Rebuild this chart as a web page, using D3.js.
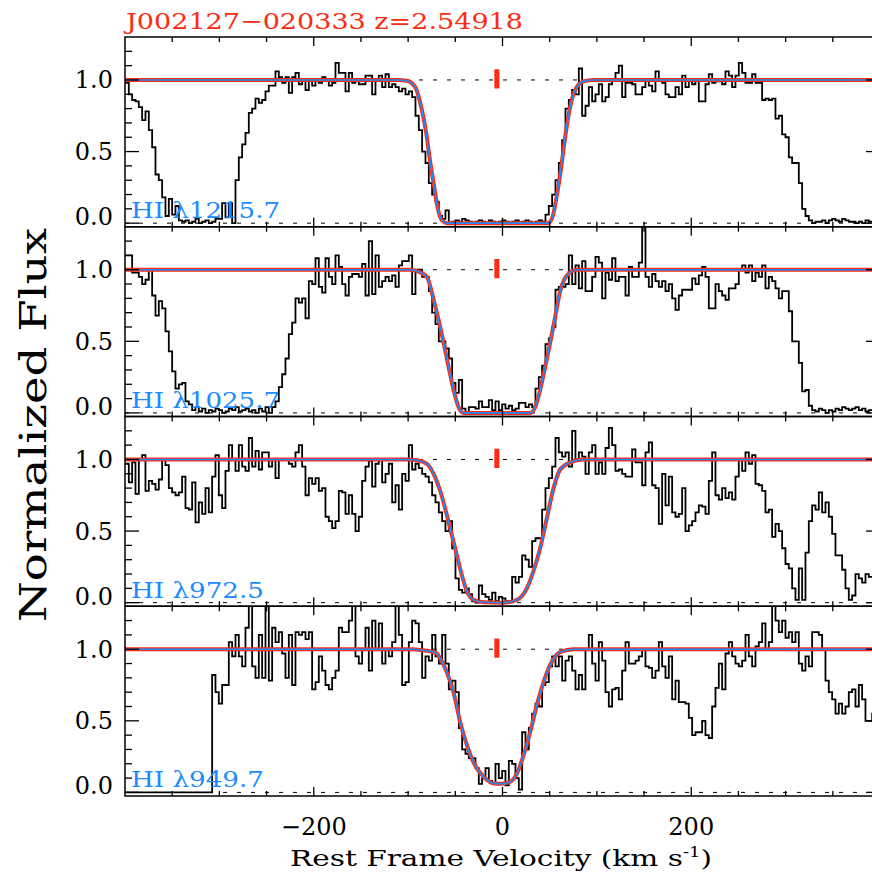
<!DOCTYPE html>
<html><head><meta charset="utf-8">
<script src="https://cdn.jsdelivr.net/npm/d3@7"></script>
<style>body{margin:0;background:#fff} svg{display:block}</style>
</head><body>
<svg id="chart" width="872" height="879"></svg>
<script>
// ---------------- data ----------------
const titleText = "J002127\u2212020333 z=2.54918";
const panelLabels = ["HI \u03bb1215.7", "HI \u03bb1025.7", "HI \u03bb972.5", "HI \u03bb949.7"];
const xTickValues = [-200, 0, 200];
const xTickLabels = ["\u2212200", "0", "200"];
const yTickValues = [0, 0.5, 1.0];
const yTickLabels = ["0.0", "0.5", "1.0"];
const xAxisTitle = "Rest Frame Velocity (km s";
const yAxisTitle = "Normalized Flux";

const velStart = -399.5, velStep = 3.532;
const markerVel = -6, markerLow = 0.94, markerHigh = 1.075;

const flux1215 = [
0.98,0.9,0.86,0.85,0.81,0.72,0.78,0.65,0.53,0.34,
0.3,0.18,0.05,0.17,0.06,0.12,0.02,0.01,0.02,0.0,
0.01,0.03,0.0,0.01,0.02,0.0,0.01,0.03,0.03,0.14,
0.04,0.14,0.0,0.3,0.46,0.55,0.63,0.77,0.8,0.87,
0.84,0.86,0.92,0.96,0.96,1.06,1.02,0.98,1.02,0.91,
1.02,1.05,0.97,1.0,0.93,1.0,0.96,1.0,0.98,1.02,
1.0,0.96,0.98,1.12,1.05,1.05,0.92,1.05,0.98,1.0,
0.97,0.97,1.03,1.03,0.9,1.0,1.03,0.95,1.04,0.95,
0.97,0.95,0.92,0.94,0.9,0.92,0.88,0.75,0.65,0.5,
0.42,0.28,0.2,0.15,0.05,0.03,0.09,0.0,0.01,0.02,
0.01,0.03,0.02,0.01,0.0,0.01,0.02,0.01,0.0,0.02,
0.01,0.0,0.01,0.02,0.01,0.0,0.01,0.02,0.0,0.01,
0.02,0.01,0.0,0.01,0.02,0.01,0.06,0.12,0.2,0.3,
0.42,0.58,0.8,0.86,0.93,0.9,1.08,0.75,0.82,0.95,
0.85,0.9,0.97,0.85,0.88,0.97,1.0,1.05,1.1,0.88,
0.98,0.98,0.97,0.9,0.9,0.95,1.0,0.96,0.92,1.06,
1.0,0.98,0.9,0.88,0.88,0.95,0.9,1.03,0.95,0.99,
0.97,1.0,0.85,0.85,0.97,1.04,0.98,0.99,0.99,0.97,
1.06,1.03,0.95,1.03,1.12,1.05,0.98,0.98,1.04,0.98,
0.98,0.86,0.87,0.86,0.87,0.73,0.75,0.62,0.6,0.46,
0.42,0.42,0.28,0.1,0.05,0.02,0.0,0.01,0.01,0.02,
0.0,0.02,0.03,0.02,0.01,0.03,0.02,0.01,0.01,0.0,
0.01,0.0,0.02,0.01,0.01,0.02,0.01];

const flux1025 = [
1.1,1.1,0.98,0.98,0.95,0.9,0.93,1.0,0.82,0.68,
0.78,0.73,0.57,0.43,0.29,0.17,0.2,0.21,0.08,0.06,
0.02,0.04,0.01,0.03,0.0,0.02,0.01,0.03,0.02,0.0,
0.01,0.03,0.02,0.04,0.01,0.02,0.03,0.01,0.02,0.0,
0.03,0.01,0.04,0.0,0.04,0.08,0.18,0.27,0.38,0.55,
0.63,0.8,0.77,0.8,0.66,0.92,0.9,1.08,0.88,0.84,
1.08,0.95,0.9,1.1,1.02,0.9,0.82,0.95,0.97,0.97,
0.95,1.04,0.82,1.2,0.83,1.1,0.88,0.92,0.95,0.92,
0.96,0.88,1.03,1.06,1.06,1.1,0.83,1.0,1.0,0.95,
0.95,0.85,0.7,0.62,0.5,0.5,0.45,0.38,0.21,0.14,
0.23,0.03,0.0,0.04,0.04,0.03,0.08,0.04,0.04,0.09,
0.02,0.08,0.02,0.06,0.03,0.05,0.02,0.03,0.07,0.07,
0.04,0.06,0.04,0.17,0.25,0.33,0.48,0.52,0.6,0.86,
0.88,0.88,0.9,1.1,0.9,1.03,0.87,1.06,0.85,0.85,
0.95,1.09,1.05,0.8,0.98,0.93,1.08,0.92,0.95,0.95,
0.82,1.02,0.95,0.95,1.05,1.35,0.95,0.88,0.97,0.92,
0.88,0.92,0.85,0.9,0.8,0.72,0.82,0.86,0.86,0.86,
0.94,0.9,0.96,1.02,0.95,0.73,0.73,0.9,0.85,0.82,
0.79,0.87,0.87,0.9,1.0,1.03,0.98,1.03,0.92,0.98,
0.95,1.03,0.87,0.95,0.92,0.87,0.8,0.85,0.85,0.71,
0.5,0.5,0.35,0.15,0.16,0.05,0.02,0.01,0.03,0.02,
0.0,0.02,0.01,0.03,0.02,0.04,0.03,0.02,0.03,0.04,
0.02,0.03,0.01,0.02,0.02,0.03,0.02];

const flux972 = [
0.97,0.84,0.98,0.76,1.0,1.03,0.78,0.85,0.83,0.79,
0.86,1.0,0.96,0.8,0.77,0.75,0.77,0.88,0.66,0.65,
0.84,0.56,0.7,0.62,0.8,0.63,0.88,1.03,0.75,0.66,
0.92,1.1,1.0,0.92,1.1,0.95,0.92,1.15,0.95,1.06,
0.93,1.05,1.05,0.95,1.0,0.87,1.0,1.0,1.0,0.97,
0.95,1.05,1.1,0.95,0.75,0.87,0.83,0.87,0.78,0.8,
0.6,0.57,0.52,0.57,0.78,0.77,0.62,0.75,0.62,0.5,
0.6,0.85,0.95,0.99,0.81,0.97,1.0,0.84,0.9,0.97,
0.7,0.82,0.65,0.9,0.85,1.1,0.93,0.97,0.94,0.9,
0.88,0.84,0.75,0.7,0.63,0.57,0.5,0.57,0.38,0.17,
0.09,0.07,0.1,0.06,0.01,0.0,0.12,0.06,0.04,0.02,
0.07,0.01,0.04,0.03,0.01,0.01,0.18,0.14,0.18,0.33,
0.3,0.25,0.43,0.45,0.45,0.65,0.8,0.87,0.95,1.15,
1.05,1.02,1.05,0.95,1.2,1.0,1.05,1.02,0.9,1.05,
1.1,0.9,0.98,0.9,1.08,1.22,1.1,0.92,0.93,0.9,
0.88,0.88,1.07,0.98,0.98,0.82,1.05,1.12,0.82,0.8,
0.55,0.9,0.68,0.88,0.63,0.6,0.62,0.8,0.5,0.54,
0.57,0.63,0.68,0.67,0.62,0.85,1.05,0.75,0.72,0.8,
0.73,0.77,0.72,0.88,1.0,0.92,1.05,0.97,1.03,0.83,
0.82,0.78,0.63,0.65,0.46,0.55,0.5,0.38,0.27,0.24,
0.1,0.02,0.24,0.02,0.35,0.57,0.68,0.65,0.77,0.63,
0.7,0.6,0.48,0.33,0.33,0.23,0.1,0.02,0.05,0.2,
0.17,0.14,0.2,0.18,0.18,0.2,0.18];

const flux949 = [
0,0,0,0,0,0,0,0,0,0,
0,0,0,0,0,0,0,0,0,0,
0,0,0,0,0,0,0.82,0.7,0.62,0.75,
0.75,1.05,0.95,1.1,0.95,0.88,1.15,1.35,0.88,0.8,
1.1,0.8,1.35,0.78,1.15,1.05,1.12,0.97,0.8,1.1,
0.75,1.12,1.1,1.12,1.07,1.12,0.72,0.77,0.95,0.85,
0.75,0.72,0.8,0.85,1.15,1.12,1.12,1.2,1.35,0.95,
0.9,1.0,1.15,0.85,1.2,1.0,1.18,0.9,1.0,0.95,
1.05,1.35,1.1,0.75,0.77,1.05,1.2,1.18,1.05,0.8,
0.95,0.92,1.1,0.95,0.9,1.1,0.9,0.72,0.78,0.7,
0.45,0.3,0.27,0.24,0.24,0.17,0.06,0.1,0.17,0.08,
0.06,0.2,0.1,0.15,0.05,0.22,0.2,0.1,0.02,0.42,
0.3,0.45,0.55,0.62,0.6,0.75,0.77,0.88,0.95,0.88,
0.95,0.78,0.92,0.95,0.85,0.72,0.82,0.72,1.0,1.1,
0.9,0.78,1.05,0.92,0.7,0.6,0.72,0.73,0.65,0.85,
1.05,0.9,0.9,0.92,0.95,1.0,0.88,0.87,0.8,0.85,
1.05,0.88,0.8,0.95,0.65,0.78,0.63,0.63,0.62,0.52,
0.4,0.42,0.42,0.5,0.4,0.38,0.6,0.73,0.9,0.72,
0.97,1.05,0.95,0.9,0.88,0.92,1.1,0.95,0.88,1.02,
1.05,1.18,1.0,1.05,1.35,1.2,1.12,1.2,1.08,1.12,
1.05,1.12,0.9,0.85,0.95,0.88,1.12,1.12,1.1,1.0,
0.78,0.7,0.65,0.55,0.62,0.55,0.6,0.7,0.72,0.6,
0.75,0.65,0.5,0.5,0.55,0.6,0.6];

// fitted model profiles (velocity, flux)
const modelVel1215 = [-400,-110,-101.3,-92.5,-85.4,-80.8,-77.3,-73.0,-68.8,-64.2,-58.9,-54,45,48.7,53.3,57.5,61.8,66.4,71.0,77.0,85.8,96.4,105,400];
const modelFlux1215 = [1,1,0.995,0.95,0.79,0.63,0.46,0.28,0.11,0.02,0.0,0,0,0.0,0.05,0.19,0.37,0.6,0.79,0.93,0.99,1.0,1,1];
const modelVel1025 = [-400,-100,-90.7,-80.1,-73.0,-67.7,-62.4,-57.1,-51.8,-46.5,-41.2,-36,24,29.3,34.6,39.9,45.2,50.5,55.8,61.1,68.2,78.8,88,400];
const modelFlux1025 = [1,1,0.99,0.95,0.79,0.65,0.49,0.32,0.16,0.04,0.0,0,0,0.0,0.04,0.16,0.32,0.49,0.67,0.85,0.96,1.0,1,1];
const modelVel972 = [-400,-100,-90.7,-80.1,-73.0,-66.0,-58.9,-53.6,-48.3,-43.0,-37.7,-30.7,-20.1,0,15.2,25.8,32.8,39.9,47.0,54.1,61.1,71.7,85.8,95,400];
const modelFlux972 = [1,1,0.995,0.97,0.9,0.78,0.61,0.47,0.33,0.19,0.08,0.02,0.003,0.0,0.02,0.1,0.22,0.38,0.59,0.8,0.93,0.98,1.0,1,1];
const modelVel949 = [-400,-95,-87.2,-76.6,-69.6,-66,-59,-51.9,-44.8,-37.7,-30.7,-20.1,-9.5,-0.7,8.2,15.2,22.3,29.3,36.4,43.5,50.5,61.1,75.2,85,400];
const modelFlux949 = [1,1,0.995,0.985,0.97,0.935,0.84,0.70,0.49,0.33,0.21,0.11,0.063,0.06,0.075,0.13,0.26,0.42,0.61,0.77,0.89,0.98,1.0,1,1];

// ---------------- layout / style ----------------
const RED = "#ff2a10", BLUE = "#1a8cff";
const FONT = "'DejaVu Serif', serif";
const plotLeft = 125, plotRight = 880;
const panelTop = 37, panelH = 189.75;

const svg = d3.select("#chart");
const x = d3.scaleLinear().domain([-400, 400]).range([plotLeft, plotRight]);
const y = d3.scaleLinear().domain([-0.025, 1.3]).range([panelH, 0]);

const panels = [
  {flux: flux1215, mv: modelVel1215, mf: modelFlux1215, label: panelLabels[0]},
  {flux: flux1025, mv: modelVel1025, mf: modelFlux1025, label: panelLabels[1]},
  {flux: flux972,  mv: modelVel972,  mf: modelFlux972,  label: panelLabels[2]},
  {flux: flux949,  mv: modelVel949,  mf: modelFlux949,  label: panelLabels[3]}
];

const stepLine = d3.line().x(d => x(d[0])).y(d => y(d[1])).curve(d3.curveStepAfter);
const smoothLine = d3.line().x(d => x(d[0])).y(d => y(d[1])).curve(d3.curveMonotoneX);

const xMinor = d3.range(-350, 351, 50);
const yMinor = d3.range(0, 13).map(d => d / 10);

panels.forEach((p, i) => {
  const g = svg.append("g").attr("transform", `translate(0,${panelTop + i * panelH})`);
  const clipId = "clip" + i;
  g.append("clipPath").attr("id", clipId).append("rect")
    .attr("x", plotLeft).attr("y", 0).attr("width", plotRight - plotLeft).attr("height", panelH);
  const inner = g.append("g").attr("clip-path", `url(#${clipId})`);

  // dotted reference levels
  [0, 1].forEach(v => inner.append("line")
    .attr("x1", plotLeft).attr("x2", plotRight).attr("y1", y(v)).attr("y2", y(v))
    .attr("stroke", "#000").attr("stroke-width", 1).attr("stroke-dasharray", "4,10"));

  // spectrum (histogram steps)
  const pts = p.flux.map((f, k) => [velStart + k * velStep, f]);
  pts.push([velStart + p.flux.length * velStep, p.flux[p.flux.length - 1]]);
  inner.append("path").attr("d", stepLine(pts)).attr("fill", "none")
    .attr("stroke", "#000").attr("stroke-width", 1.8).attr("stroke-linejoin", "miter");

  // model
  const mpts = p.mv.map((v, k) => [v, p.mf[k]]);
  inner.append("path").attr("d", smoothLine(mpts)).attr("fill", "none")
    .attr("stroke", RED).attr("stroke-width", 4);
  inner.append("path").attr("d", smoothLine(mpts)).attr("fill", "none")
    .attr("stroke", BLUE).attr("stroke-width", 1.6);

  // component marker
  inner.append("line").attr("x1", x(markerVel)).attr("x2", x(markerVel))
    .attr("y1", y(markerLow)).attr("y2", y(markerHigh))
    .attr("stroke", RED).attr("stroke-width", 5);

  // label
  g.append("text").attr("x", 131).attr("y", y(0) - 5)
    .attr("font-family", FONT).attr("font-size", 23).attr("fill", BLUE)
    .attr("textLength", p.label.length > 9 ? 149 : 133).attr("lengthAdjust", "spacingAndGlyphs")
    .text(p.label);

  // frame
  g.append("rect").attr("x", plotLeft).attr("y", 0)
    .attr("width", plotRight - plotLeft).attr("height", panelH)
    .attr("fill", "none").attr("stroke", "#000").attr("stroke-width", 1.5);

  // x ticks (top and bottom, inward)
  xMinor.forEach(v => {
    const len = xTickValues.includes(v) ? 9 : 5;
    g.append("line").attr("x1", x(v)).attr("x2", x(v)).attr("y1", 0).attr("y2", len)
      .attr("stroke", "#000").attr("stroke-width", 1.3);
    g.append("line").attr("x1", x(v)).attr("x2", x(v)).attr("y1", panelH).attr("y2", panelH - len)
      .attr("stroke", "#000").attr("stroke-width", 1.3);
  });
  // y ticks (left and right, inward)
  yMinor.forEach(v => {
    const len = yTickValues.some(t => Math.abs(t - v) < 1e-6) ? 14 : 7;
    g.append("line").attr("x1", plotLeft).attr("x2", plotLeft + len).attr("y1", y(v)).attr("y2", y(v))
      .attr("stroke", "#000").attr("stroke-width", 1.3);
    g.append("line").attr("x1", plotRight).attr("x2", plotRight - len).attr("y1", y(v)).attr("y2", y(v))
      .attr("stroke", "#000").attr("stroke-width", 1.3);
  });
  // y tick labels
  yTickValues.forEach((v, k) => {
    g.append("text").attr("x", 113).attr("y", y(v) + (v === 0 ? 2 : 8.5))
      .attr("text-anchor", "end").attr("font-family", FONT).attr("font-size", 24)
      .attr("fill", "#000").text(yTickLabels[k]);
  });
  // x tick labels on bottom panel
  if (i === panels.length - 1) {
    xTickValues.forEach((v, k) => {
      g.append("text").attr("x", x(v)).attr("y", panelH + 39)
        .attr("text-anchor", "middle").attr("font-family", FONT).attr("font-size", 24)
        .attr("fill", "#000").text(xTickLabels[k]);
    });
  }
});

// title
svg.append("text").attr("x", 126).attr("y", 29)
  .attr("font-family", FONT).attr("font-size", 23).attr("fill", RED)
  .attr("textLength", 397).attr("lengthAdjust", "spacingAndGlyphs")
  .text(titleText);

// x axis title
const xt = svg.append("text").attr("x", 290).attr("y", 866)
  .attr("font-family", FONT).attr("font-size", 23).attr("fill", "#000")
  .attr("textLength", 422).attr("lengthAdjust", "spacingAndGlyphs");
xt.append("tspan").text(xAxisTitle);
xt.append("tspan").attr("font-size", 14).attr("dy", -9).text("-1");
xt.append("tspan").attr("dy", 9).text(")");

// y axis title
svg.append("text").attr("transform", "translate(46,425) rotate(-90)")
  .attr("text-anchor", "middle").attr("font-family", FONT).attr("font-size", 38)
  .attr("fill", "#000").attr("textLength", 394).attr("lengthAdjust", "spacingAndGlyphs")
  .text(yAxisTitle);
</script>
</body></html>
